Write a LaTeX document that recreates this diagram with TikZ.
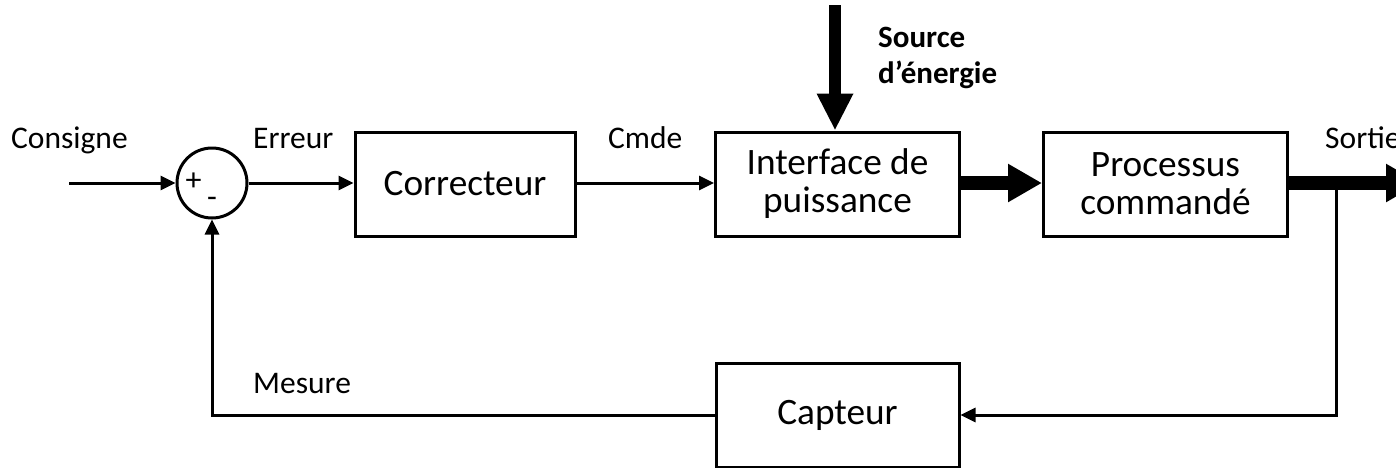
\documentclass[tikz,border=0pt]{standalone}
\usepackage{fontspec}
\setmainfont{Carlito}
\usetikzlibrary{arrows.meta}
\begin{document}
\begin{tikzpicture}[x=1pt,y=-1pt,
  blockbox/.style={draw, line width=3pt, rectangle, minimum width=244pt, minimum height=104pt, inner sep=0pt, align=center, font=\fontsize{37.3}{38}\selectfont},
  sumnode/.style={draw, line width=3pt, circle, minimum size=70pt, inner sep=0pt},
  lbl/.style={font=\fontsize{31.5}{32}\selectfont, inner sep=0pt, anchor=base west},
  signtext/.style={font=\fontsize{32}{33}\selectfont, inner sep=0pt},
  sig/.style={line width=3pt, -{Triangle[length=15pt,width=14pt]}},
  power/.style={line width=14pt, -{Triangle[length=34pt,width=36pt]}},
  srcarrow/.style={line width=12pt, -{Triangle[length=37pt,width=34pt]}}
]
\useasboundingbox (0,0) rectangle (1396,467);
\clip (0,0) rectangle (1396,467);
\node[sumnode] (sum) at (212,183) {};
\node[signtext] (plus) at (193.5,182) {+};
\node[signtext] (minus) at (212,202) {-};
\node[blockbox, minimum width=220pt] (corr) at (465,184) {Correcteur};
\node[blockbox] (iface) at (837.5,184) {Interface de\\puissance};
\node[blockbox] (proc) at (1165.5,184) {Processus\\commandé};
\node[blockbox, minimum width=243pt] (capt) at (837.5,415) {Capteur};

\coordinate (in) at (69,183);
\coordinate (out) at (1420,183);
\coordinate (branch) at (1336,183);
\coordinate (fbR) at (1336,415);
\coordinate (fbL) at (212,415);
\coordinate (srcTop) at (835,5);

\draw[sig] (in) -- (sum.west);
\draw[sig] (sum.east) -- (corr.west |- sum.east);
\draw[sig] (corr.east |- sum.east) -- (iface.west |- sum.east);
\draw[power] (iface.east |- sum.east) -- (proc.west |- sum.east);
\draw[power] (proc.east |- sum.east) -- (out);
\draw[sig] (branch) -- (fbR) -- (capt.east);
\draw[sig] (capt.west) -- (fbL) -- (sum.south);
\draw[srcarrow] (srcTop) -- (srcTop |- iface.north);

\node[lbl] (lcons) at (11,148) {Consigne};
\node[lbl] (lerr) at (253,148) {Erreur};
\node[lbl] (lcmde) at (608,148) {Cmde};
\node[lbl] (lsort) at (1325,148) {Sortie};
\node[lbl] (lmes) at (253,393) {Mesure};
\node[font=\bfseries\fontsize{31}{36}\selectfont, align=left, anchor=base west, inner sep=0pt] (lsrc) at (878,83) {Source\\d’énergie};
\end{tikzpicture}
\end{document}
